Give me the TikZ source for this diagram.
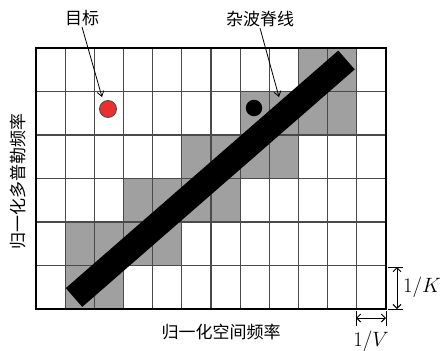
\documentclass[tikz,border=0pt]{standalone}
\usepackage{fontspec}
\newfontfamily\cjk{Noto Sans CJK SC}
\usetikzlibrary{arrows.meta}
\definecolor{cellgray}{HTML}{A0A0A0}
\definecolor{gridc}{HTML}{4A4A4A}
\definecolor{tred}{HTML}{E8302E}
\begin{document}
\begin{tikzpicture}[x=1pt,y=-1pt,
  gridline/.style={draw=gridc,line width=1.3pt},
  shadecell/.style={fill=cellgray,draw=none},
  lbl/.style={font=\cjk\fontsize{17}{17}\selectfont,inner sep=1pt},
  mlbl/.style={font=\fontsize{21}{21}\selectfont,inner sep=0pt},
  pointer/.style={draw=black,line width=0.8pt,-{Straight Barb[length=5pt,width=7pt]}},
  dimarrow/.style={draw=black,line width=1pt,{Straight Barb[length=4pt,width=8pt]}-{Straight Barb[length=4pt,width=8pt]}},
  dimtick/.style={draw=black,line width=1pt},
  dot/.style={circle,inner sep=0pt,minimum size=17pt}
]
\useasboundingbox (0,0) rectangle (440,351);
\fill[white] (0,0) rectangle (440,351);
% shaded cells: row (from bottom) / first col / last col
\foreach \r/\a/\b in {5/9/10, 4/7/10, 3/5/8, 2/3/6, 1/1/4, 0/1/2}{
  \path[shadecell] ({36+\a*350/12},{48+(5-\r)*43.5}) rectangle ({36+(\b+1)*350/12},{48+(6-\r)*43.5});
}
% grid
\foreach \i in {1,...,11}{
  \draw[gridline] ({36+\i*350/12},48) -- ({36+\i*350/12},309);
}
\foreach \j in {1,...,5}{
  \draw[gridline] (36,{48+\j*43.5}) -- (386,{48+\j*43.5});
}
% clutter ridge bar
\coordinate (barA) at (74,297.5);
\coordinate (barB) at (346.5,60);
\draw[line width=25pt,black] (barA) -- (barB);
% outer border
\draw[black,line width=1.5pt] (36,48) rectangle (386,309);
% target and clutter dot
\node[dot,fill=tred,draw=gridc,line width=0.8pt] (target) at (108,109) {};
\node[dot,fill=black,minimum size=16.5pt] (cdot) at (254,108) {};
% labels and pointers
\node[lbl] (tgt) at (82,18) {目标};
\coordinate (tgtend) at (102,97);
\draw[pointer] (tgt.south) -- (tgtend);
\node[lbl] (clut) at (260,19) {杂波脊线};
\coordinate (clutend) at (279,97);
\draw[pointer] (clut.south) -- (clutend);
% axis labels
\node[lbl,rotate=90] (ylab) at (18,181) {归一化多普勒频率};
\node[lbl] (xlab) at (221,332) {归一化空间频率};
% 1/K dimension
\coordinate (kt1) at (388,267);
\coordinate (kt1e) at (403,267);
\coordinate (kt2) at (388,309);
\coordinate (kt2e) at (403,309);
\coordinate (ka) at (397,267);
\coordinate (kb) at (397,309);
\draw[dimtick] (kt1) -- (kt1e);
\draw[dimtick] (kt2) -- (kt2e);
\draw[dimarrow] (ka) -- (kb);
\node[mlbl] (klab) at (422,287) {$1/K$};
% 1/V dimension
\coordinate (vt1) at (356,311);
\coordinate (vt1e) at (356,326);
\coordinate (vt2) at (386,311);
\coordinate (vt2e) at (386,326);
\coordinate (va) at (356,318);
\coordinate (vb) at (386,318);
\draw[dimtick] (vt1) -- (vt1e);
\draw[dimtick] (vt2) -- (vt2e);
\draw[dimarrow] (va) -- (vb);
\node[mlbl] (vlab) at (371,341) {$1/V$};
\end{tikzpicture}
\end{document}
